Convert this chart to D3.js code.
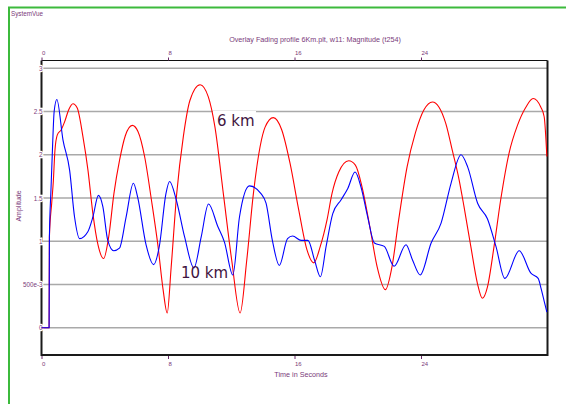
<!DOCTYPE html>
<html>
<head>
<meta charset="utf-8">
<script src="https://cdn.jsdelivr.net/npm/d3@7"></script>
<style>
    body { margin: 0; background: #fff; }
    svg { display: block; }
    text { font-family: "Liberation Sans", Arial, sans-serif; fill: #7a3a7a; }
</style>
</head>
<body>
<div id="chart"></div>
<script>
// time (s) and amplitude, 6 km profile (red)
var times6 = [0, 0.48, 0.5, 0.65, 0.75, 0.85, 1.0, 1.25, 1.46, 1.72, 1.99, 2.26, 2.62, 2.94, 3.25, 3.57, 3.93,
    4.25, 4.58, 4.94, 5.3, 5.74, 6.1, 6.52, 6.95, 7.37, 7.69, 7.95, 8.2, 8.55, 8.97, 9.39, 10.03, 10.55, 10.97,
    11.5, 12.03, 12.56, 12.98, 13.4, 13.82, 14.14, 14.66, 15.19, 15.72, 16.27, 16.79, 17.22, 17.63, 18.06, 18.37,
    18.8, 19.43, 19.85, 20.27, 20.8, 21.22, 21.75, 22.17, 22.59, 23.12, 23.64, 24.19, 24.72, 25.14, 25.57, 25.98,
    26.41, 26.72, 27.15, 27.57, 27.88, 28.2, 28.62, 29.04, 29.57, 30.1, 30.63, 31.09, 31.58, 31.79, 31.96];
var amp6 = [0, 0, 1.05, 1.45, 1.7, 2.05, 2.23, 2.29, 2.38, 2.52, 2.59, 2.54, 2.21, 1.82, 1.32, 0.96, 0.80,
    1.05, 1.55, 1.94, 2.22, 2.34, 2.27, 1.98, 1.48, 0.94, 0.44, 0.17, 0.70, 1.55, 2.21, 2.63, 2.81, 2.67, 2.32,
    1.55, 0.78, 0.17, 0.78, 1.55, 2.09, 2.32, 2.43, 2.29, 1.90, 1.36, 0.90, 0.75, 0.94, 1.25, 1.55,
    1.80, 1.93, 1.88, 1.63, 1.13, 0.71, 0.44, 0.71, 1.25, 1.86, 2.25, 2.52, 2.61, 2.55, 2.36, 2.05,
    1.71, 1.40, 0.94, 0.51, 0.34, 0.47, 0.94, 1.48, 2.02, 2.34, 2.55, 2.65, 2.55, 2.44, 1.98];

// 10 km profile (blue)
var times10 = [0, 0.48, 0.5, 0.6, 0.7, 0.8, 0.97, 1.36, 1.78, 2.09, 2.41, 2.93, 3.25, 3.6, 3.88, 4.19, 4.57,
    4.93, 5.35, 5.81, 6.08, 6.61, 7.09, 7.45, 7.87, 8.1, 8.52, 9.05, 9.64, 10.1, 10.56, 11.15, 11.57, 12.1,
    12.52, 13.15, 13.88, 14.2, 14.6, 15.04, 15.56, 15.88, 16.42, 16.85, 17.27, 17.64, 18.0, 18.42, 18.95, 19.37,
    19.83, 20.2, 20.63, 21.05, 21.68, 22.3, 23.05, 23.47, 23.95, 24.64, 25.27, 25.9, 26.53, 26.95, 27.58, 28.2,
    28.74, 29.3, 30.21, 30.95, 31.41, 31.6, 31.8, 31.96];
var amp10 = [0, 0, 1.05, 1.6, 2.1, 2.5, 2.64, 2.17, 1.82, 1.28, 1.03, 1.11, 1.28, 1.53, 1.40, 1.01, 0.89,
    0.92, 1.28, 1.67, 1.51, 0.96, 0.73, 0.94, 1.55, 1.69, 1.48, 1.05, 0.69, 1.05, 1.43, 1.17, 0.99, 0.61,
    1.28, 1.64, 1.55, 1.44, 1.01, 0.72, 1.03, 1.06, 1.01, 1.01, 0.78, 0.59, 0.94, 1.32, 1.48, 1.61,
    1.80, 1.63, 1.28, 0.98, 0.94, 0.71, 0.96, 0.78, 0.61, 0.98, 1.21, 1.67, 2.0, 1.86, 1.44, 1.26,
    0.94, 0.57, 0.89, 0.63, 0.57, 0.45, 0.3, 0.18];

// axis ticks
var xTicks = [0, 8, 16, 24];
var yTicks = [0, 0.5, 1, 1.5, 2, 2.5, 3];
var yTickLabels = ["0", "500e-3", "1", "1.5", "2", "2.5", "3"];

var width = 566, height = 404;
var frame = {left: 41.5, right: 547.5, top: 60.5, bottom: 355};

var svg = d3.select("#chart").append("svg")
    .attr("width", width)
    .attr("height", height);

// green window border (top and left only)
svg.append("path")
    .attr("d", "M9,404V7.5H566")
    .attr("fill", "none")
    .attr("stroke", "#3cba3c")
    .attr("stroke-width", 2);

svg.append("text")
    .attr("x", 11).attr("y", 16)
    .style("font-size", "6.3px")
    .text("SystemVue");

var xScale = d3.scaleLinear()
    .domain([0, 32])
    .range([frame.left, frame.right]);

var yScale = d3.scaleLinear()
    .domain([0, 3])
    .range([327.7, 68.3]);

// horizontal grid
svg.append("g")
    .selectAll("line")
    .data(yTicks)
    .enter().append("line")
    .attr("x1", frame.left)
    .attr("x2", frame.right)
    .attr("y1", function (d) { return yScale(d); })
    .attr("y2", function (d) { return yScale(d); })
    .attr("stroke", "#a9a9a9")
    .attr("stroke-width", 1.4);

// frame: thin top, heavy left/right/bottom
svg.append("line")
    .attr("x1", frame.left).attr("x2", frame.right)
    .attr("y1", frame.top).attr("y2", frame.top)
    .attr("stroke", "#111").attr("stroke-width", 1);
svg.append("path")
    .attr("d", "M" + frame.left + "," + frame.top + "V" + frame.bottom + "H" + frame.right + "V" + frame.top)
    .attr("fill", "none")
    .attr("stroke", "#1a1a1a")
    .attr("stroke-width", 2);

// top axis
var topAxis = svg.append("g")
    .attr("transform", "translate(0," + frame.top + ")")
    .call(d3.axisTop(xScale).tickValues(xTicks).tickSize(3).tickSizeOuter(0));
// bottom axis
var bottomAxis = svg.append("g")
    .attr("transform", "translate(0," + (frame.bottom + 1) + ")")
    .call(d3.axisBottom(xScale).tickValues(xTicks).tickSize(3).tickSizeOuter(0).tickPadding(3));

[topAxis, bottomAxis].forEach(function (ax) {
    ax.select(".domain").remove();
    ax.selectAll(".tick line").attr("stroke", "#6a2a6a");
    ax.selectAll(".tick text")
        .attr("text-anchor", "start")
        .attr("fill", "#7a3a7a")
        .style("font-family", "'Liberation Sans', Arial, sans-serif")
        .style("font-size", "6px");
});

// left axis labels sit over the axis line
var leftAxis = svg.append("g")
    .attr("transform", "translate(" + (frame.left + 1) + ",0)")
    .call(d3.axisLeft(yScale).tickValues(yTicks).tickSize(0).tickPadding(0)
        .tickFormat(function (d, i) { return yTickLabels[i]; }));
leftAxis.select(".domain").remove();
leftAxis.selectAll(".tick text")
    .attr("fill", "#7a3a7a")
    .attr("stroke", "#fff")
    .attr("stroke-width", 2.5)
    .attr("paint-order", "stroke")
    .style("font-family", "'Liberation Sans', Arial, sans-serif")
    .style("font-size", "6.3px");

// titles
svg.append("text")
    .attr("x", 315).attr("y", 42)
    .attr("text-anchor", "middle")
    .style("font-size", "7.2px")
    .text("Overlay Fading profile 6Km.plt, w11: Magnitude (t254)");

svg.append("text")
    .attr("x", 301).attr("y", 377)
    .attr("text-anchor", "middle")
    .style("font-size", "7.2px")
    .text("Time in Seconds");

svg.append("text")
    .attr("transform", "translate(21,206) rotate(-90)")
    .attr("text-anchor", "middle")
    .style("font-size", "7px")
    .text("Amplitude");

// label box for "6 km" hides the grid behind it
svg.append("rect")
    .attr("x", 213).attr("y", 111)
    .attr("width", 43).attr("height", 17)
    .attr("fill", "#fff");

var line = d3.line()
    .x(function (d) { return xScale(d[0]); })
    .y(function (d) { return yScale(d[1]); })
    .curve(d3.curveMonotoneX);

var series = [
    {name: "6 km", times: times6, values: amp6, color: "#ff0000"},
    {name: "10 km", times: times10, values: amp10, color: "#0000ff"}
];

svg.append("g")
    .selectAll("path")
    .data(series)
    .enter().append("path")
    .attr("d", function (s) {
        return line(s.times.map(function (t, i) { return [t, s.values[i]]; }));
    })
    .attr("fill", "none")
    .attr("stroke", function (s) { return s.color; })
    .attr("stroke-width", 1.1)
    .attr("stroke-linejoin", "round");

// in-plot series labels
svg.append("text")
    .attr("x", 217).attr("y", 126)
    .style("font-family", "'DejaVu Sans', sans-serif")
    .style("font-size", "15px")
    .style("font-weight", "500")
    .attr("fill", "#3f1440")
    .style("fill", "#3f1440")
    .text("6 km");

svg.append("text")
    .attr("x", 181).attr("y", 278)
    .style("font-family", "'DejaVu Sans', sans-serif")
    .style("font-size", "15px")
    .style("fill", "#3f1440")
    .text("10 km");
</script>
</body>
</html>
